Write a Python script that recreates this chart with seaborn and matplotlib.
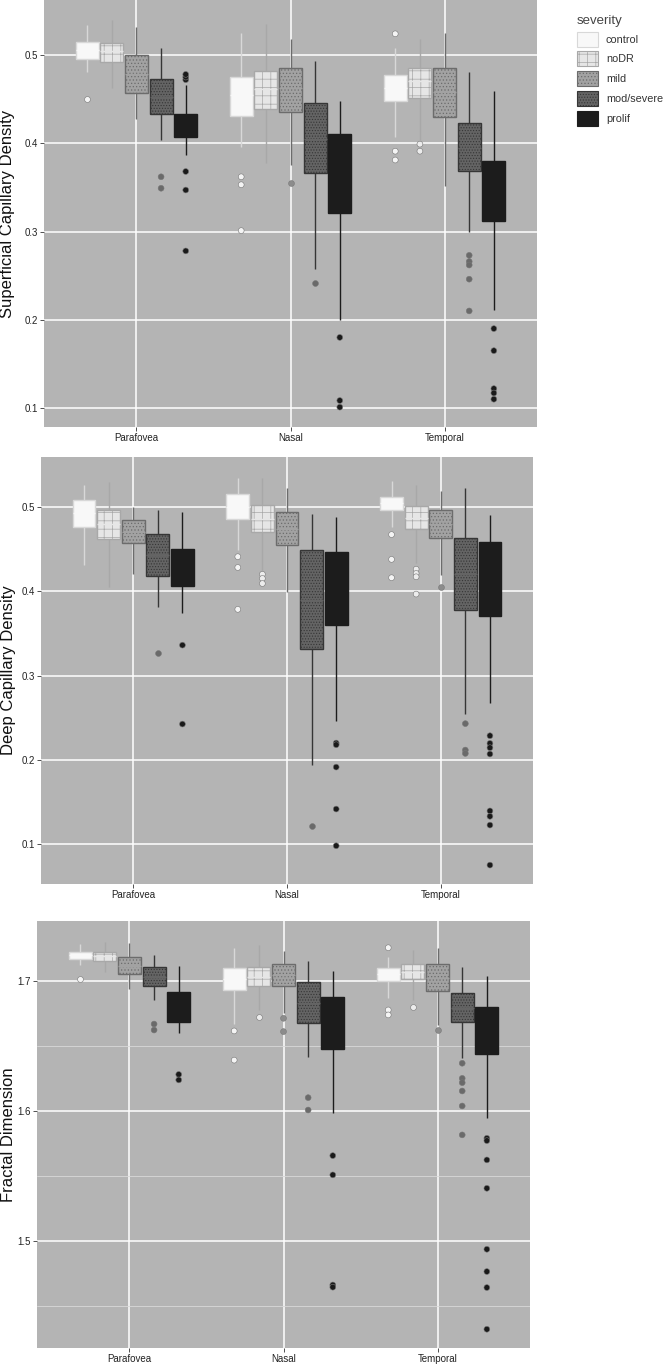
import numpy as np
import pandas as pd
import matplotlib
matplotlib.use("Agg")
import matplotlib.pyplot as plt
from matplotlib.patches import Patch
import seaborn as sns

regions = ['Parafovea', 'Nasal', 'Temporal']
severity = ['control', 'noDR', 'mild', 'mod/severe', 'prolif']

# box stats, region-major / severity-minor (15 groups per panel)
sup_lo = [.481, .463, .427, .404, .387, .396, .378, .375, .257, .200, .4075, .404, .352, .300, .211]
sup_q1 = [.496, .492, .457, .433, .4075, .431, .439, .435, .366, .321, .448, .451, .4295, .368, .312]
sup_med = [.506, .505, .478, .452, .418, .455, .462, .463, .405, .368, .463, .470, .458, .395, .345]
sup_q3 = [.515, .514, .500, .473, .433, .475, .482, .485, .446, .4105, .477, .4856, .4856, .4233, .380]
sup_hi = [.534, .540, .532, .508, .466, .525, .535, .518, .493, .448, .5076, .518, .525, .481, .459]
sup_out = [[.450], [], [], [.362, .349], [.472, .475, .478, .368, .347, .278],
           [.362, .353, .301], [], [.355], [.242], [.180, .1085, .101],
           [.524, .391, .381], [.399, .391], [], [.273, .266, .262, .246, .210],
           [.190, .165, .122, .117, .110]]

deep_lo = [.431, .405, .420, .3815, .3736, .4487, .423, .399, .194, .2465, .4755, .433, .419, .255, .267]
deep_q1 = [.4763, .4617, .457, .418, .406, .486, .470, .455, .3314, .360, .496, .4735, .4625, .378, .371]
deep_med = [.492, .479, .470, .443, .428, .500, .486, .474, .390, .403, .504, .487, .479, .420, .414]
deep_q3 = [.5079, .496, .484, .468, .450, .515, .502, .4937, .4487, .446, .5118, .501, .496, .4625, .4577]
deep_hi = [.5257, .529, .500, .496, .494, .5336, .5336, .522, .491, .488, .531, .5257, .519, .522, .490]
deep_out = [[], [], [], [.3266], [.336, .2425],
            [.4408, .428, .3784], [.420, .415, .409], [], [.122], [.220, .218, .1915, .1418, .0983],
            [.467, .4376, .4159], [.426, .421, .417, .3965], [.405], [.243, .2117, .2077],
            [.2287, .2196, .2145, .207, .1396, .1332, .1228, .0754]]

fd_lo = [1.712, 1.707, 1.6933, 1.6852, 1.660, 1.667, 1.6775, 1.675, 1.6417, 1.5982, 1.6864, 1.685, 1.666, 1.6404, 1.5943]
fd_q1 = [1.7166, 1.715, 1.7049, 1.6962, 1.668, 1.6928, 1.6959, 1.6959, 1.6673, 1.6473, 1.6997, 1.701, 1.6923, 1.6685, 1.6435]
fd_med = [1.7195, 1.719, 1.711, 1.703, 1.680, 1.701, 1.703, 1.704, 1.683, 1.667, 1.705, 1.707, 1.702, 1.679, 1.662]
fd_q3 = [1.7223, 1.7223, 1.718, 1.7107, 1.6916, 1.7095, 1.7107, 1.7128, 1.6987, 1.6872, 1.7095, 1.7125, 1.7125, 1.6903, 1.6795]
fd_hi = [1.728, 1.730, 1.7287, 1.720, 1.7113, 1.7253, 1.7274, 1.7228, 1.715, 1.7074, 1.718, 1.7235, 1.7248, 1.7107, 1.7036]
fd_out = [[1.7015], [], [], [1.6667, 1.6621], [1.628, 1.6238],
          [1.6614, 1.639], [1.6724], [1.6711, 1.6609], [1.6102, 1.6007], [1.5657, 1.5509, 1.4664, 1.4647],
          [1.7253, 1.6775, 1.6737], [1.6795], [1.6621], [1.6366, 1.625, 1.6217, 1.6153, 1.6038, 1.5816],
          [1.579, 1.5772, 1.5624, 1.5406, 1.4938, 1.4767, 1.4644, 1.4324]]

fills = ['#f8f8f8', '#e6e6e6', '#a2a2a2', '#646464', '#1c1c1c']
edges = ['#d8d8d8', '#a8a8a8', '#6c6c6c', '#363636', '#1c1c1c']
hatches = [None, '++', '.....', '......', None]
dot_colors = ['#f4f4f4', '#ececec', '#8c8c8c', '#6a6a6a', '#1a1a1a']


def make_frames(lo, q1, med, q3, hi, out):
    rows, orows = [], []
    for i, (a, b, c, d, e) in enumerate(zip(lo, q1, med, q3, hi)):
        r, s = regions[i // 5], severity[i % 5]
        for v in (a, b, c, d, e):
            rows.append((r, s, v))
        for v in out[i]:
            orows.append((r, s, v))
    cols = ['region', 'severity', 'value']
    return pd.DataFrame(rows, columns=cols), pd.DataFrame(orows, columns=cols)


panels = [
    (make_frames(sup_lo, sup_q1, sup_med, sup_q3, sup_hi, sup_out), 'Superficial Capillary Density',
     [44, 0, 537, 427], (0.0785, 0.5623), [0.1, 0.2, 0.3, 0.4, 0.5], [], 15),
    (make_frames(deep_lo, deep_q1, deep_med, deep_q3, deep_hi, deep_out), 'Deep Capillary Density',
     [41, 457, 533, 884], (0.053, 0.5589), [0.1, 0.2, 0.3, 0.4, 0.5], [], 16),
    (make_frames(fd_lo, fd_q1, fd_med, fd_q3, fd_hi, fd_out), 'Fractal Dimension',
     [37, 921, 530, 1348], (1.418, 1.7458), [1.5, 1.6, 1.7], [1.45, 1.55, 1.65], 16),
]

sns.set_theme(style='darkgrid')
plt.rcParams['font.family'] = ['Liberation Sans', 'DejaVu Sans']
plt.rcParams['hatch.linewidth'] = 0.5

W, H = 664, 1365
fig = plt.figure(figsize=(W / 100, H / 100), dpi=100)

for (box_df, out_df), ylabel, (x0, y0, x1, y1), ylim, majors, minors, lab_x in panels:
    ax = fig.add_axes([x0 / W, 1 - y1 / H, (x1 - x0) / W, (y1 - y0) / H])
    ax.set_facecolor('#b4b4b4')
    for k, sev in enumerate(severity):
        n_before = len(ax.patches)
        sns.boxplot(data=box_df[box_df['severity'] == sev], x='region', y='value',
                    hue='severity', hue_order=severity, order=regions,
                    palette=dict(zip(severity, fills)), linecolor=edges[k],
                    width=0.8, gap=0.07, dodge=True, whis=(0, 100), showfliers=False,
                    showcaps=False, linewidth=1.0, legend=False, ax=ax,
                    medianprops={'color': fills[k]})
        for p in ax.patches[n_before:]:
            if hatches[k]:
                p.set_hatch(hatches[k])
    sns.stripplot(data=out_df, x='region', y='value', hue='severity',
                  hue_order=severity, order=regions, dodge=True, jitter=False,
                  palette=dict(zip(severity, dot_colors)), size=4.2,
                  linewidth=0.4, edgecolor='#777777', legend=False, ax=ax, zorder=3)
    ax.set_ylim(*ylim)
    ax.set_xlim(-0.6, 2.6)
    ax.set_yticks(majors)
    ax.set_yticklabels([f'{v:g}' for v in majors])
    ax.set_yticks(minors, minor=True)
    ax.grid(which='major', color='white', linewidth=1.1)
    ax.grid(which='minor', axis='y', color='#d8d8d8', linewidth=0.6)
    ax.set_axisbelow(True)
    for s in ax.spines.values():
        s.set_visible(False)
    ax.tick_params(axis='both', which='major', length=3, width=0.6, color='#333333',
                   labelsize=7, labelcolor='#222222', pad=1.5, bottom=True, left=True)
    ax.tick_params(axis='y', which='minor', length=0)
    ax.set_xlabel('')
    ax.set_ylabel(ylabel, fontsize=12, color='#111111')
    ax.yaxis.set_label_coords(lab_x / W, 1 - (y0 + y1) / 2 / H, transform=fig.transFigure)

handles = [Patch(facecolor=f, edgecolor=e, hatch=h, linewidth=0.8)
           for f, e, h in zip(fills, edges, hatches)]
leg = fig.legend(handles, severity, title='severity', loc='upper left',
                 bbox_to_anchor=(567 / W, 1 - 5 / H), frameon=False,
                 fontsize=7.8, title_fontsize=9.5, handlelength=2.0, handleheight=1.75,
                 labelspacing=0.45, handletextpad=0.7, alignment='left')
for t in leg.get_texts():
    t.set_color('#333333')
leg.get_title().set_color('#444444')

fig.savefig('out.png', dpi=100)
